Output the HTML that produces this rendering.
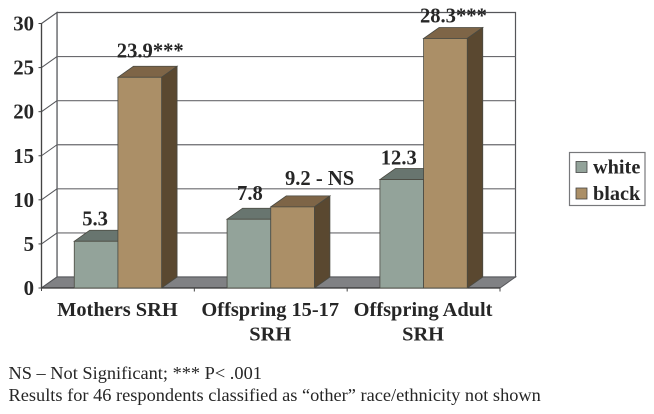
<!DOCTYPE html>
<html>
<head>
<meta charset="utf-8">
<style>
html,body{margin:0;padding:0;background:#fff;width:654px;height:414px;overflow:hidden}
svg{display:block;font-family:"Liberation Serif",serif;fill:#231f20}
text{fill:#262626}
</style>
</head>
<body>
<svg id="chart" width="654" height="414" viewBox="0 0 654 414" xmlns="http://www.w3.org/2000/svg"></svg>
<script>
const categories = [["Mothers SRH"], ["Offspring 15-17", "SRH"], ["Offspring Adult", "SRH"]];
const whiteValues = [5.3, 7.8, 12.3];
const blackValues = [23.9, 9.2, 28.3];
const whiteLabels = ["5.3", "7.8", "12.3"];
const blackLabels = ["23.9***", "9.2 - NS", "28.3***"];
const yTicks = [0, 5, 10, 15, 20, 25, 30];
const seriesNames = ["white", "black"];

const svg = document.getElementById('chart');
const NS = 'http://www.w3.org/2000/svg';
const x0 = 41.5, x1 = 500, baseY = 288, topY = 23.5, dx = 15.5, dy = 11;
const yScale = v => baseY - (v / 30) * (baseY - topY);
const catW = (x1 - x0) / categories.length;
const barW = catW / (2 + 1.5);
const catX = i => x0 + i * catW;
const barX = (i, s) => catX(i) + barW * 0.75 + s * barW;

function add(tag, attrs, name, text) {
  const el = document.createElementNS(NS, tag);
  for (const k in attrs) el.setAttribute(k, attrs[k]);
  
  
  if (text !== undefined) el.textContent = text;
  svg.appendChild(el);
  return el;
}
const pts = a => a.map(p => p.join(',')).join(' ');

// back wall and side wall
add('polygon', {points: pts([[x0 + dx, baseY - dy], [x1 + dx, baseY - dy], [x1 + dx, topY - dy], [x0 + dx, topY - dy]]), fill: '#fff', stroke: '#55565a', 'stroke-width': 1.2}, 'back-wall');
add('polygon', {points: pts([[x0, baseY], [x0 + dx, baseY - dy], [x0 + dx, topY - dy], [x0, topY]]), fill: '#fff', stroke: '#55565a', 'stroke-width': 1.2}, 'side-wall');

// gridlines, ticks, labels
yTicks.forEach(t => {
  const y = yScale(t);
  if (t > 0 && t < 30) {
    add('line', {x1: x0 + dx, y1: y - dy, x2: x1 + dx, y2: y - dy, stroke: '#6a6a6e', 'stroke-width': 1.2}, 'gridline-' + t);
    add('line', {x1: x0, y1: y, x2: x0 + dx, y2: y - dy, stroke: '#55565a', 'stroke-width': 1}, 'gridline-side-' + t);
  }
  add('line', {x1: x0 - 3, y1: y, x2: x0, y2: y, stroke: '#444', 'stroke-width': 1}, 'y-tick-' + t);
  add('text', {x: 34, y: y + 7, 'text-anchor': 'end', 'font-size': 20.8, 'font-weight': 'bold'}, 'y-tick-label-' + t, String(t));
});

// floor
add('polygon', {points: pts([[x0, baseY], [x0 + dx, baseY - dy], [x1 + dx, baseY - dy], [x1, baseY]]), fill: '#808184', stroke: '#55565a', 'stroke-width': 1}, 'floor');
add('line', {x1: x0, y1: baseY, x2: x1, y2: baseY, stroke: '#333', 'stroke-width': 1.2}, 'x-axis');
categories.forEach((c, i) => {
  add('line', {x1: catX(i + 1), y1: baseY, x2: catX(i + 1), y2: baseY + 3.5, stroke: '#444', 'stroke-width': 1}, 'x-tick-' + i);
});
add('line', {x1: x0, y1: baseY - 1, x2: x0, y2: baseY + 3, stroke: '#444', 'stroke-width': 1}, 'x-tick-origin');
add('line', {x1: x0, y1: topY, x2: x0, y2: baseY, stroke: '#444', 'stroke-width': 1.2}, 'y-axis');

function bar(i, s, v, front, top, side, name) {
  const l = barX(i, s), r = l + barW, y = yScale(v);
  const stroke = '#4a4a42';
  add('polygon', {points: pts([[l, y], [l + dx, y - dy], [r + dx, y - dy], [r, y]]), fill: top, stroke: stroke, 'stroke-width': 0.8}, name + '-top');
  add('polygon', {points: pts([[r, y], [r + dx, y - dy], [r + dx, baseY - dy], [r, baseY]]), fill: side, stroke: stroke, 'stroke-width': 0.8}, name + '-side');
  add('rect', {x: l, y: y, width: barW, height: baseY - y, fill: front, stroke: stroke, 'stroke-width': 0.8}, name);
}
categories.forEach((c, i) => {
  bar(i, 0, whiteValues[i], '#93a39a', '#68756f', '#4d5751', 'bar-white-' + i);
  bar(i, 1, blackValues[i], '#ab8f67', '#7e6547', '#5a4830', 'bar-black-' + i);
});

// data labels (small nudges relative to each bar top, per series and group)
const whiteNudge = [[-1, -16], [1, -19], [-3, -15]];
const blackNudge = [[10.5, -20], [27, -22], [8, -16]];
categories.forEach((c, i) => {
  add('text', {x: barX(i, 0) + barW / 2 + whiteNudge[i][0], y: yScale(whiteValues[i]) + whiteNudge[i][1], 'text-anchor': 'middle', 'font-size': 20.6, 'font-weight': 'bold'}, 'data-label-white-' + i, whiteLabels[i]);
  add('text', {x: barX(i, 1) + barW / 2 + blackNudge[i][0], y: yScale(blackValues[i]) + blackNudge[i][1], 'text-anchor': 'middle', 'font-size': 20.6, 'font-weight': 'bold'}, 'data-label-black-' + i, blackLabels[i]);
});

// category labels
categories.forEach((lines, i) => {
  lines.forEach((ln, j) => {
    add('text', {x: catX(i) + catW / 2 - 0.5, y: 316 + j * 24.5, 'text-anchor': 'middle', 'font-size': 20.4, 'font-weight': 'bold'}, 'category-label-' + i + '-' + j, ln);
  });
});

// legend
add('rect', {x: 569.5, y: 152.5, width: 75.5, height: 53, fill: '#fff', stroke: '#77787b', 'stroke-width': 1.2}, 'legend-box');
const legendFill = ['#93a39a', '#ab8f67'];
seriesNames.forEach((n, k) => {
  const y = 161.5 + k * 26.5;
  add('rect', {x: 576, y: y, width: 11, height: 11, fill: legendFill[k], stroke: '#444', 'stroke-width': 0.8}, 'legend-swatch-' + n);
  add('text', {x: 593, y: y + 12, 'font-size': 20.3, 'font-weight': 'bold'}, 'legend-label-' + n, n);
});

// footnotes
add('text', {x: 8.5, y: 379, 'font-size': 18.35}, 'footnote-significance', 'NS – Not Significant; *** P< .001');
add('text', {x: 8.5, y: 401, 'font-size': 18.35}, 'footnote-other-race', 'Results for 46 respondents classified as “other” race/ethnicity not shown');
</script>
</body>
</html>
